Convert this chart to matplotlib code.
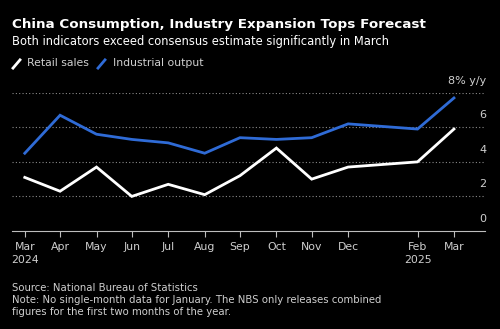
import matplotlib.pyplot as plt
from matplotlib.lines import Line2D
import pandas as pd

# Month-end observations (no standalone January figure)
months = ["2024-03-31", "2024-04-30", "2024-05-31", "2024-06-30", "2024-07-31",
          "2024-08-31", "2024-09-30", "2024-10-31", "2024-11-30", "2024-12-31",
          "2025-02-28", "2025-03-31"]
retail_sales = [3.1, 2.3, 3.7, 2.0, 2.7, 2.1, 3.2, 4.8, 3.0, 3.7, 4.0, 5.9]
industrial_output = [4.5, 6.7, 5.6, 5.3, 5.1, 4.5, 5.4, 5.3, 5.4, 6.2, 5.9, 7.7]
tick_labels = ["Mar\n2024", "Apr", "May", "Jun", "Jul", "Aug", "Sep", "Oct",
               "Nov", "Dec", "Feb\n2025", "Mar"]
y_ticks = [0, 2, 4, 6, 8]

BG = "#000000"
BLUE = "#2f6bd6"
GREY = "#cfcfcf"

dates = pd.to_datetime(months)

fig = plt.figure(figsize=(5, 3.29), dpi=100, facecolor=BG)
ax = fig.add_axes([0.023, 0.298, 0.947, 0.42], facecolor=BG)

ax.plot(dates, industrial_output, color=BLUE, lw=2, solid_joinstyle="miter")
ax.plot(dates, retail_sales, color="white", lw=2, solid_joinstyle="miter")

ax.set_ylim(0, 8)
ax.set_xlim(dates[0] - pd.Timedelta(days=11.3), dates[-1] + pd.Timedelta(days=26.4))

for v in y_ticks[1:]:
    ax.axhline(v, color="#8a8a8a", lw=0.8, ls=(0, (1, 2)), zorder=0)

for s in ["top", "right", "left"]:
    ax.spines[s].set_visible(False)
ax.spines["bottom"].set_color("#bdbdbd")
ax.spines["bottom"].set_linewidth(0.8)

ax.set_yticks([])
ax.set_xticks(dates)
ax.set_xticklabels(tick_labels, color=GREY, fontsize=7.8, linespacing=1.35)
ax.tick_params(axis="x", colors="#bdbdbd", length=4, width=0.8, pad=4,
               labelcolor=GREY)

# value labels sit above their gridlines on the right
for v in y_ticks:
    lab = "8% y/y" if v == 8 else str(v)
    ax.annotate(lab, xy=(1.0, v), xycoords=("axes fraction", "data"),
                xytext=(1, 5), textcoords="offset points",
                ha="right", va="bottom", color=GREY, fontsize=8)

fig.text(0.024, 0.925, "China Consumption, Industry Expansion Tops Forecast",
         color="white", fontsize=9.7, fontweight="bold", va="center")
fig.text(0.024, 0.875, "Both indicators exceed consensus estimate significantly in March",
         color="white", fontsize=8.3, va="center")

# legend with slanted line swatches
fig.add_artist(Line2D([0.026, 0.040], [0.793, 0.818], color="white", lw=2,
                      transform=fig.transFigure))
fig.text(0.054, 0.807, "Retail sales", color=GREY, fontsize=7.8, va="center")
fig.add_artist(Line2D([0.196, 0.210], [0.793, 0.818], color=BLUE, lw=2,
                      transform=fig.transFigure))
fig.text(0.226, 0.807, "Industrial output", color=GREY, fontsize=7.8, va="center")

fig.text(0.024, 0.035,
         "Source: National Bureau of Statistics\n"
         "Note: No single-month data for January. The NBS only releases combined\n"
         "figures for the first two months of the year.",
         color=GREY, fontsize=7.3, va="bottom", linespacing=1.25)

fig.savefig("out.png", dpi=100, facecolor=BG)
